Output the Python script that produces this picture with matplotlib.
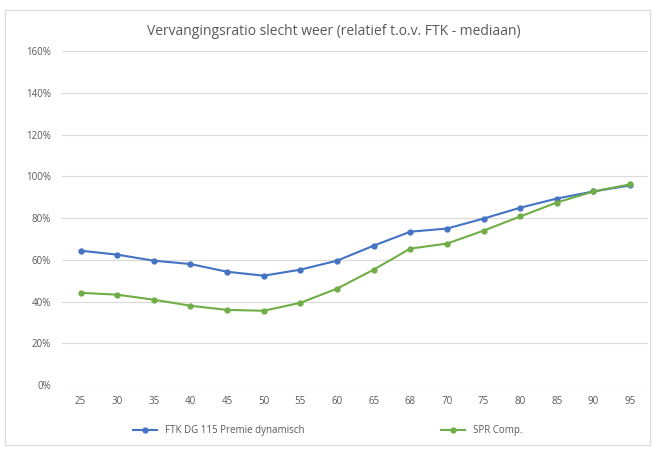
import matplotlib
matplotlib.use("Agg")
import matplotlib.pyplot as plt
from matplotlib.patches import Rectangle
from matplotlib.ticker import FuncFormatter

categories = ["25", "30", "35", "40", "45", "50", "55", "60", "65", "68", "70", "75", "80", "85", "90", "95"]
ftk = [64.4, 62.5, 59.6, 58.0, 54.3, 52.4, 55.3, 59.6, 66.8, 73.5, 75.0, 79.8, 85.0, 89.4, 92.8, 95.7]
spr = [44.2, 43.3, 40.9, 38.0, 36.0, 35.6, 39.4, 46.2, 55.3, 65.4, 67.8, 74.0, 80.8, 87.5, 92.8, 96.2]
series_names = ["FTK DG 115 Premie dynamisch", "SPR Comp."]
title = "Vervangingsratio slecht weer (relatief t.o.v. FTK - mediaan)"

plt.rcParams['font.family'] = ['Open Sans', 'DejaVu Sans']
grey = "#595959"

fig = plt.figure(figsize=(6.55, 4.54), dpi=100)
fig.patches.append(Rectangle((0.008, 0.02), 0.984, 0.958, transform=fig.transFigure,
                             fill=False, edgecolor="#d9d9d9", linewidth=0.8))
ax = fig.add_axes([0.095, 0.152, 0.895, 0.735])
x = list(range(len(categories)))
ax.plot(x, ftk, color="#4472C4", marker="o", markersize=3.5, linewidth=1.5, label=series_names[0])
ax.plot(x, spr, color="#70AD47", marker="o", markersize=3.5, linewidth=1.5, label=series_names[1])
ax.set_ylim(0, 160)
ax.set_yticks(range(0, 161, 20))
ax.yaxis.set_major_formatter(FuncFormatter(lambda v, p: f"{int(v)}%"))
ax.set_xlim(-0.5, len(categories) - 0.5)
ax.set_xticks(x)
ax.set_xticklabels(categories)
ax.grid(axis="y", color="#d9d9d9", linewidth=0.8)
ax.set_axisbelow(True)
for s in ax.spines.values():
    s.set_visible(False)
ax.tick_params(axis="both", length=0, labelsize=7, colors=grey, pad=8)
fig.text(0.51, 0.93, title, ha="center", va="center", fontsize=10, color=grey)
fig.legend(loc="lower center", bbox_to_anchor=(0.5, 0.02), ncol=2, frameon=False,
           fontsize=7, labelcolor=grey, columnspacing=14, handlelength=2.5)
fig.savefig("out.png", dpi=100)
